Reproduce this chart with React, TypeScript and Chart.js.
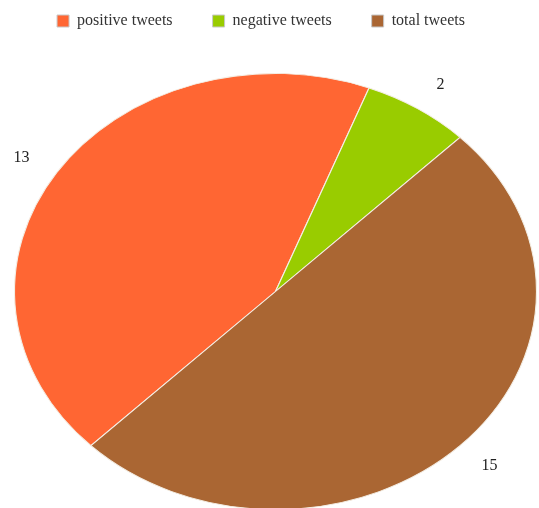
import { useEffect, useRef } from "react";
import { Chart, registerables } from "chart.js";

Chart.register(...registerables);

const categories = ["positive tweets", "negative tweets", "total tweets"];
const tweetCounts = [13, 2, 15];
const sliceColors = ["#FF6633", "#99CC00", "#AA6633"];

// ellipse geometry of the (stretched) pie in the picture
const ELLIPSE = { cx: 275.5, cy: 291.5, rx: 261, ry: 218 };
const LABEL_KX = 1.16;
const LABEL_KY = 1.13;
const FONT = "'Liberation Serif', 'Times New Roman', serif";

export default function App() {
  const ref = useRef<HTMLCanvasElement | null>(null);

  useEffect(() => {
    document.body.style.margin = "0";
    const canvas = ref.current;
    if (!canvas) return;

    const ellipsePlugin = {
      id: "ellipsePie",
      beforeDatasetsDraw(chart: any) {
        const arc = chart.getDatasetMeta(0).data[0];
        const ctx = chart.ctx;
        ctx.save();
        if (!arc || !arc.outerRadius) return;
        ctx.translate(ELLIPSE.cx, ELLIPSE.cy);
        ctx.scale(ELLIPSE.rx / arc.outerRadius, ELLIPSE.ry / arc.outerRadius);
        ctx.translate(-arc.x, -arc.y);
      },
      afterDatasetsDraw(chart: any) {
        const ctx = chart.ctx;
        ctx.restore();
        const meta = chart.getDatasetMeta(0);
        ctx.save();
        ctx.font = "16px " + FONT;
        ctx.fillStyle = "#222222";
        ctx.textAlign = "center";
        ctx.textBaseline = "middle";
        meta.data.forEach((a: any, i: number) => {
          const mid = (a.startAngle + a.endAngle) / 2;
          const x = ELLIPSE.cx + ELLIPSE.rx * LABEL_KX * Math.cos(mid);
          const y = ELLIPSE.cy + ELLIPSE.ry * LABEL_KY * Math.sin(mid);
          ctx.fillText(String(chart.data.datasets[0].data[i]), x, y);
        });
        ctx.restore();
      },
    };

    const chart = new Chart(canvas, {
      type: "pie",
      data: {
        labels: categories,
        datasets: [
          {
            data: tweetCounts,
            backgroundColor: sliceColors,
            borderColor: "#F4EEE4",
            borderWidth: 1,
            clip: false as any,
          },
        ],
      },
      options: {
        responsive: true,
        maintainAspectRatio: false,
        animation: false,
        rotation: 225,
        layout: { padding: { top: -27, left: -17, right: 0, bottom: 0 } },
        plugins: {
          tooltip: { enabled: false },
          legend: {
            position: "top",
            labels: {
              boxWidth: 12,
              boxHeight: 12,
              padding: 40,
              color: "#333333",
              font: { family: FONT, size: 16 },
              generateLabels(chart: any) {
                const items = Chart.overrides.pie.plugins.legend.labels.generateLabels(chart);
                return items.map((it: any) => ({ ...it, strokeStyle: "#C8C8C8", lineWidth: 1 }));
              },
            },
          },
        },
      },
      plugins: [ellipsePlugin],
    });

    return () => chart.destroy();
  }, []);

  return (
    <div style={{ width: 539, height: 508, position: "relative" }}>
      <canvas ref={ref} />
    </div>
  );
}
